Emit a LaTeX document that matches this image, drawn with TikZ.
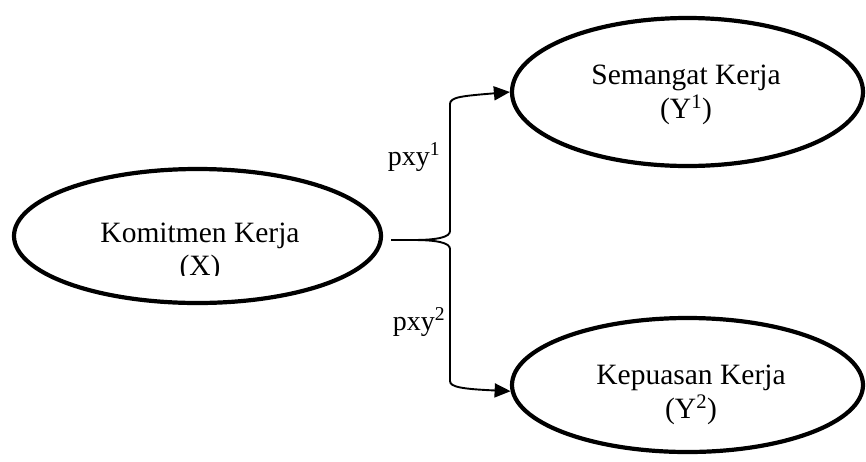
\documentclass[tikz,border=0pt]{standalone}
\usepackage{fontspec}
\setmainfont{Liberation Serif}
\usetikzlibrary{arrows.meta,shapes.geometric}
\tikzset{
  oval/.style={ellipse, draw, line width=4.2pt, inner sep=0pt},
  ttl/.style={anchor=base, inner sep=0pt, font=\fontsize{29.5}{34}\selectfont},
  lbl/.style={anchor=base, inner sep=0pt, font=\fontsize{28}{33}\selectfont},
  conn/.style={draw, line width=1.9pt, -{Triangle[length=16pt,width=14pt]}}
}
\begin{document}
\begin{tikzpicture}[x=1pt,y=-1pt]
\useasboundingbox (0,0) rectangle (866,461);
% ovals
\node[oval, minimum width=367pt, minimum height=134pt] (X) at (197.5,236) {};
\node[oval, minimum width=351pt, minimum height=148pt] (Y1) at (687.5,92) {};
\node[oval, minimum width=351pt, minimum height=134pt] (Y2) at (687.5,385) {};
% texts
\node[ttl] (XtA) at (200,242) {Komitmen Kerja};
\begin{scope}
  \clip (0,0) rectangle (866,275.5);
  \node[ttl] (XtB) at (200,275) {(X)};
\end{scope}
\node[ttl] (YaA) at (686,84) {Semangat Kerja};
\node[ttl] (YaB) at (686,118) {(Y\textsuperscript{1})};
\node[ttl] (YbA) at (691,384) {Kepuasan Kerja};
\node[ttl] (YbB) at (691,418) {(Y\textsuperscript{2})};
% labels
\node[lbl] (p1) at (414,165) {pxy\textsuperscript{1}};
\node[lbl] (p2) at (419,330) {pxy\textsuperscript{2}};
% connectors
\draw[conn] ([xshift=8pt,yshift=-4pt]X.east) -- ++(22,0)
  .. controls +(25,0) and +(0,6) .. (450,231) -- (450,104)
  .. controls (450,97) and (462,96) .. (Y1.west);
\draw[conn] ([xshift=8pt,yshift=-4pt]X.east) -- ++(22,0)
  .. controls +(25,0) and +(0,-6) .. (450,249) -- (450,381)
  .. controls (450,387) and (462,389) .. (Y2.182);
\end{tikzpicture}
\end{document}
